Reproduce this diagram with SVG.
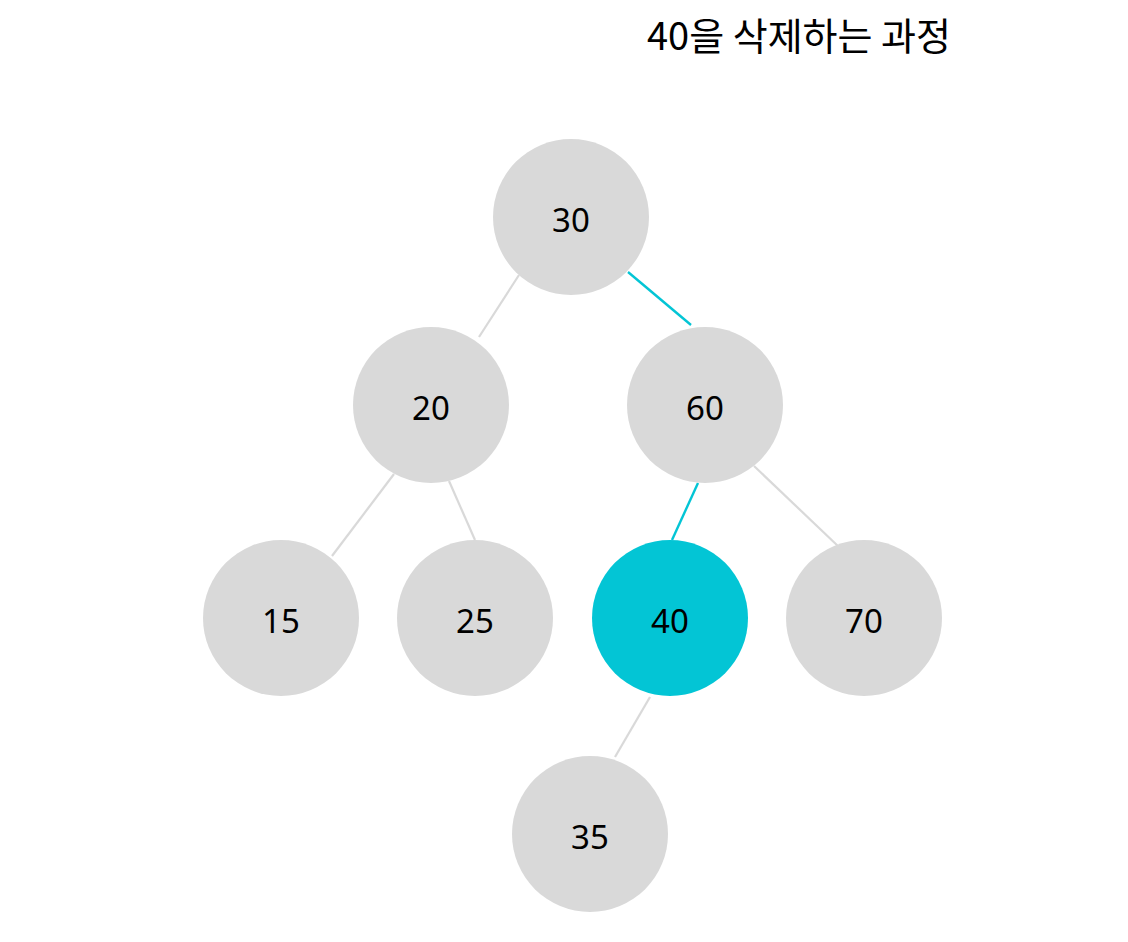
<svg xmlns="http://www.w3.org/2000/svg" width="1128" height="942" viewBox="0 0 1128 942">
<style>
.n{fill:#d9d9d9}
.h{fill:#03c5d5}
.t{font-family:"Noto Sans","Noto Sans CJK KR",sans-serif;font-size:33px;fill:#000;text-anchor:middle}
.e{stroke:#d9d9d9;stroke-width:2.2;fill:none}
.eh{stroke:#03c5d5;stroke-width:2.4;fill:none}
</style>
<rect width="1128" height="942" fill="#fff"/>
<text x="799" y="50" font-family="'Noto Sans CJK KR','Noto Sans',sans-serif" font-size="38" text-anchor="middle" fill="#000">40을 삭제하는 과정</text>
<g id="connectors">
<line class="e" x1="519" y1="275" x2="479" y2="337"/>
<line class="eh" x1="628" y1="272" x2="691" y2="325"/>
<line class="e" x1="394" y1="474" x2="332" y2="556"/>
<line class="e" x1="449" y1="481" x2="475" y2="540"/>
<line class="eh" x1="698" y1="483" x2="672" y2="540"/>
<line class="e" x1="754" y1="466" x2="839" y2="547"/>
<line class="e" x1="650" y1="697" x2="615" y2="757"/>
</g>
<g id="n30"><circle class="n" cx="571" cy="217" r="78"/><text class="t" x="571" y="232">30</text></g>
<g id="n20"><circle class="n" cx="431" cy="405" r="78"/><text class="t" x="431" y="420">20</text></g>
<g id="n60"><circle class="n" cx="705" cy="405" r="78"/><text class="t" x="705" y="420">60</text></g>
<g id="n15"><circle class="n" cx="281" cy="618" r="78"/><text class="t" x="281" y="633">15</text></g>
<g id="n25"><circle class="n" cx="475" cy="618" r="78"/><text class="t" x="475" y="633">25</text></g>
<g id="n40"><circle class="h" cx="670" cy="618" r="78"/><text class="t" x="670" y="633">40</text></g>
<g id="n70"><circle class="n" cx="864" cy="618" r="78"/><text class="t" x="864" y="633">70</text></g>
<g id="n35"><circle class="n" cx="590" cy="834" r="78"/><text class="t" x="590" y="849">35</text></g>
</svg>
